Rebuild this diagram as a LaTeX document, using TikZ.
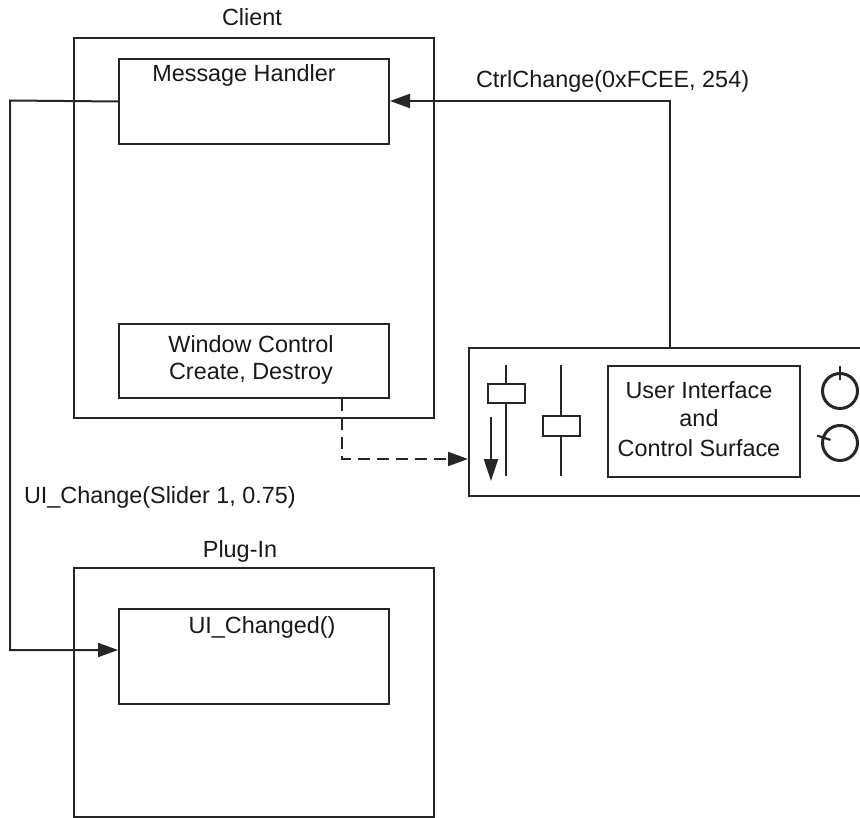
\documentclass[tikz,border=0pt]{standalone}
\usepackage{fontspec}
\setmainfont{Liberation Sans}
\usetikzlibrary{arrows.meta}
\definecolor{ink}{HTML}{262626}
\begin{document}
\begin{tikzpicture}[x=1pt,y=-1pt,
  line width=2pt, color=ink,
  box/.style={draw, rectangle, inner sep=0pt, anchor=north west, fill=white},
  knob/.style={draw, circle, inner sep=0pt, minimum size=35pt, line width=3pt},
  lbl/.style={inner sep=0pt, anchor=base, text=black!90, font=\fontsize{23.4}{28}\selectfont},
  tip/.style={-{Triangle[length=20pt,width=14pt]}},
  dashline/.style={dash pattern=on 12pt off 7pt},
]
\useasboundingbox (0,0) rectangle (860,818);
\clip (0,0) rectangle (860,818);

% Client process with its two handlers
\node[box, minimum width=360pt, minimum height=380pt] (client) at (73,37) {};
\node[box, minimum width=270pt, minimum height=85pt] (mh) at (118,58) {};
\node[box, minimum width=270pt, minimum height=74pt] (wc) at (118,323) {};
\node[lbl] (clientlbl) at (252,26) {Client};
\node[lbl] (mhlbl) at (244,82) {Message Handler};
\node[lbl] (wclbl1) at (251,353) {Window Control};
\node[lbl] (wclbl2) at (251,380) {Create, Destroy};

% Plug-in and its callback
\node[box, minimum width=360pt, minimum height=249pt] (plugin) at (73,567) {};
\node[box, minimum width=270pt, minimum height=95pt] (uic) at (118,608) {};
\node[lbl] (pluginlbl) at (240,557) {Plug-In};
\node[lbl] (uiclbl) at (262,633) {UI\_Changed()};

% Control surface panel
\node[box, minimum width=450pt, minimum height=148pt] (panel) at (468,347) {};
\node[box, minimum width=192pt, minimum height=111pt] (ui) at (607,365) {};
\node[lbl] (uilbl1) at (699,399) {User Interface};
\node[lbl] (uilbl2) at (699,427) {and};
\node[lbl] (uilbl3) at (699,456) {Control Surface};

% Sliders
\coordinate (s1top) at (506,365);
\coordinate (s1bot) at (506,476);
\coordinate (s2top) at (561,365);
\coordinate (s2bot) at (561,476);
\draw (s1top) -- (s1bot);
\draw (s2top) -- (s2bot);
\node[box, minimum width=37pt, minimum height=19pt] (h1) at (487,383) {};
\node[box, minimum width=37pt, minimum height=20pt] (h2) at (542,415) {};
\coordinate (a1) at (491,417);
\coordinate (a2) at (491,481);
\draw[-{Triangle[length=22pt,width=14pt]}] (a1) -- (a2);

% Knobs
\node[knob] (k1) at (840,391) {};
\node[knob] (k2) at (840,443) {};
\draw[line width=2.2pt] ([shift={(270:25)}]k1.center) -- ([shift={(270:11)}]k1.center);
\draw[line width=2.2pt] ([shift={(198:24)}]k2.center) -- ([shift={(198:10)}]k2.center);

% Messages
\coordinate (b1) at (10,100.5);
\coordinate (b2) at (10,650);
\draw[tip] (mh.west) -- (b1) -- (b2) -- (uic.west |- b2);

\coordinate (up) at (670,101);
\draw[tip] (panel.north -| up) -- (up) -- (mh.east |- up);

\coordinate (dk) at (342,459);
\draw[tip, dashline] (wc.south -| dk) -- (dk) -- (panel.west |- dk);

\node[lbl, anchor=base west] (ctrllbl) at (475,88) {CtrlChange(0xFCEE, 254)};
\node[lbl, anchor=base west] (uichlbl) at (23,503) {UI\_Change(Slider 1, 0.75)};
\end{tikzpicture}
\end{document}
